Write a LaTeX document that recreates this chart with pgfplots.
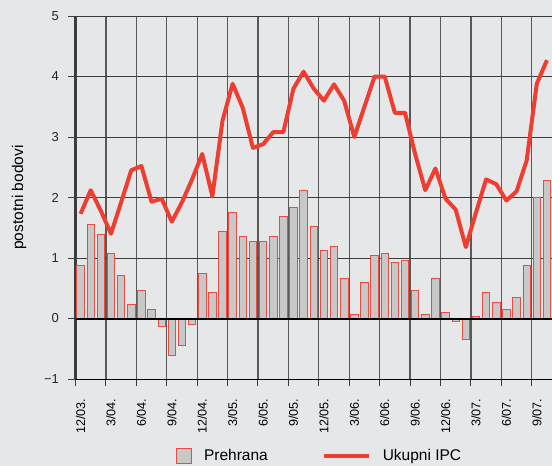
\documentclass[border=0pt]{standalone}
\usepackage{pgfplots}
\pgfplotsset{compat=1.18}
\usepackage{fontspec}
\setmainfont{Liberation Sans}
\definecolor{bg}{HTML}{E6E7E9}
\definecolor{barfill}{HTML}{C8C8C9}
\definecolor{baredge}{HTML}{EE4A40}
\definecolor{linered}{HTML}{EE3E32}
\definecolor{gridc}{HTML}{3C3C3C}
\begin{document}
\begin{tikzpicture}
\fill[bg] (0,0) rectangle (552bp,466bp);
\begin{axis}[
  at={(75.5bp,87bp)}, anchor=south west,
  scale only axis, width=476.5bp, height=363bp,
  xmin=0, xmax=47, ymin=-1, ymax=5,
  axis x line=bottom, axis y line=left,
  axis line style={-},
  x axis line style={black, line width=0.9bp},
  y axis line style={gridc, line width=2bp},
  tick align=outside,
  xtick={0.5,3.5,...,45.5},
  xticklabels={12/03.,3/04.,6/04.,9/04.,12/04.,3/05.,6/05.,9/05.,12/05.,3/06.,6/06.,9/06.,12/06.,3/07.,6/07.,9/07.},
  minor xtick={0,3,...,45},
  major x tick style={draw=none},
  minor x tick style={gridc, line width=1bp},
  minor tick length=7bp,
  major tick length=7bp,
  xmajorgrids=false, xminorgrids=true,
  minor x grid style={gridc!85, line width=1.3bp},
  ytick={-1,0,1,2,3,4,5},
  yticklabels={−1,0,1,2,3,4,5},
  ymajorgrids=true,
  major y grid style={gridc, line width=1bp},
  major y tick style={gridc, line width=1bp},
  xticklabel style={yshift=-9bp, rotate=90, anchor=east, font=\fontsize{12.6bp}{15bp}\selectfont},
  yticklabel style={xshift=-6bp, font=\fontsize{13bp}{15bp}\selectfont, text=black!85},
  ylabel={postotni bodovi},
  every axis y label/.style={at={(axis description cs:0,0.5)}, xshift=-56.5bp, rotate=90, anchor=center, font=\fontsize{15.5bp}{18bp}\selectfont},
  legend columns=2,
  legend style={at={(axis description cs:0.211,-0.212)}, anchor=west, draw=none, fill=none, inner sep=0pt,
    font=\fontsize{15.5bp}{18bp}\selectfont,
    nodes={inner sep=0pt},
    /tikz/every odd column/.style={column sep=12bp},
    /tikz/every even column/.style={column sep=54bp}},
  clip=false,
]
\addplot[ybar, bar width=0.74, fill=barfill, draw=baredge, line width=0.8bp,
  legend image code/.code={\draw[fill=barfill, draw=baredge, line width=0.8bp] (0bp,-7.5bp) rectangle (15bp,7.5bp);}]
coordinates {
(0.5,0.87) (1.5,1.56) (2.5,1.39) (3.5,1.08) (4.5,0.71) (5.5,0.23) (6.5,0.47) (7.5,0.15)
(8.5,-0.13) (9.5,-0.61) (10.5,-0.45) (11.5,-0.09) (12.5,0.75) (13.5,0.43) (14.5,1.44) (15.5,1.76)
(16.5,1.36) (17.5,1.28) (18.5,1.28) (19.5,1.36) (20.5,1.68) (21.5,1.84) (22.5,2.12) (23.5,1.52)
(24.5,1.12) (25.5,1.20) (26.5,0.67) (27.5,0.07) (28.5,0.59) (29.5,1.04) (30.5,1.08) (31.5,0.92)
(32.5,0.96) (33.5,0.47) (34.5,0.06) (35.5,0.67) (36.5,0.10) (37.5,-0.05) (38.5,-0.34) (39.5,0.04)
(40.5,0.43) (41.5,0.27) (42.5,0.15) (43.5,0.35) (44.5,0.87) (45.5,2.00) (46.5,2.28)
};
\addlegendentry{Prehrana}
\addplot[black, line width=2bp, forget plot] coordinates {(0,0) (47,0)};
\addplot[linered, line width=4bp, line join=round,
  legend image code/.code={\draw[linered, line width=4bp] (0bp,0bp) -- (45bp,0bp);}]
coordinates {
(0.5,1.73) (1.5,2.12) (2.5,1.78) (3.5,1.40) (4.5,1.92) (5.5,2.45) (6.5,2.52) (7.5,1.93)
(8.5,1.98) (9.5,1.60) (10.5,1.92) (11.5,2.30) (12.5,2.72) (13.5,2.02) (14.5,3.27) (15.5,3.88)
(16.5,3.48) (17.5,2.82) (18.5,2.88) (19.5,3.08) (20.5,3.08) (21.5,3.80) (22.5,4.08) (23.5,3.80)
(24.5,3.60) (25.5,3.87) (26.5,3.60) (27.5,3.00) (28.5,3.50) (29.5,4.00) (30.5,4.00) (31.5,3.40)
(32.5,3.40) (33.5,2.72) (34.5,2.12) (35.5,2.48) (36.5,1.98) (37.5,1.80) (38.5,1.18) (39.5,1.75)
(40.5,2.30) (41.5,2.22) (42.5,1.95) (43.5,2.10) (44.5,2.61) (45.5,3.88) (46.5,4.27)
};
\addlegendentry{Ukupni IPC}
\end{axis}
\pgfresetboundingbox
\path (0,0) rectangle (552bp,466bp);
\end{tikzpicture}
\end{document}
